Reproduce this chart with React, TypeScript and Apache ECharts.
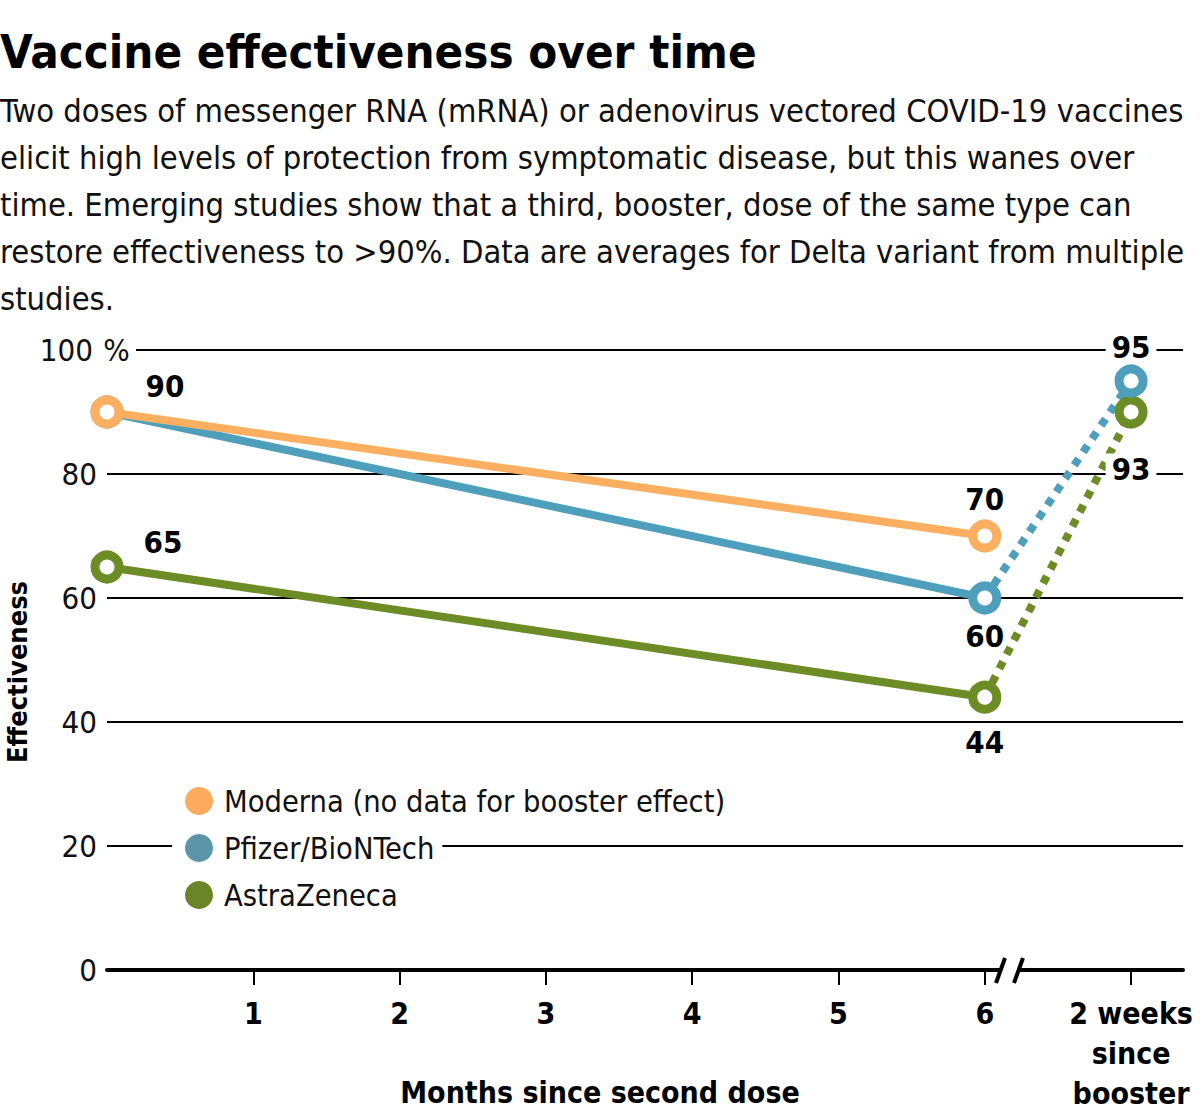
import React, { useEffect, useRef } from "react";
import * as echarts from "echarts";

const TITLE = "Vaccine effectiveness over time";
const SUBTITLE_LINES = [
  "Two doses of messenger RNA (mRNA) or adenovirus vectored COVID-19 vaccines",
  "elicit high levels of protection from symptomatic disease, but this wanes over",
  "time. Emerging studies show that a third, booster, dose of the same type can",
  "restore effectiveness to >90%. Data are averages for Delta variant from multiple",
  "studies.",
];
const SERIES_NAMES = ["Moderna (no data for booster effect)", "Pfizer/BioNTech", "AstraZeneca"];
const MONTHS = [0, 6];
const BOOSTER_X = 7;
const MODERNA = [90, 70];
const PFIZER = [90, 60];
const PFIZER_BOOSTER = 95;
const ASTRA = [65, 44];
const ASTRA_BOOSTER = 90;
const MODERNA_LABELS = ["90", "70"];
const PFIZER_LABELS = ["", "60", "95"];
const ASTRA_LABELS = ["65", "44", "93"];
const X_TICKS = [1, 2, 3, 4, 5, 6, 7];
const X_TICK_LABELS = ["1", "2", "3", "4", "5", "6", "2 weeks\nsince\nbooster"];
const Y_TICK_VALUES = [0, 20, 40, 60, 80, 100];
const Y_TICK_LABELS = ["0", "20", "40", "60", "80", "100"];

const COLORS = ["#FDAF61", "#4E9FBC", "#6C8C26"];
const LEGEND_COLORS = ["#FBAA5E", "#5A95A8", "#6A8428"];
const FONT = "'DejaVu Sans Condensed', 'Liberation Sans Narrow', 'Roboto', sans-serif";

const LABEL_OFFSETS: Record<string, [number, number]> = {
  m0: [58, -26], m1: [0, -37],
  p1: [0, 38], p2: [0, -34],
  a0: [56, -25], a1: [0, 45], a2: [0, 57],
};

function lbl(text: string, offset: [number, number] | undefined, bg: boolean) {
  if (!text || !offset) return { show: false };
  return {
    show: true,
    formatter: text,
    position: "inside",
    offset,
    fontFamily: FONT,
    fontWeight: "bold",
    fontSize: 31,
    color: "#000",
    backgroundColor: bg ? "#fff" : "transparent",
    padding: bg ? [0, 6, 0, 6] : 0,
  };
}

function mainSeries(name: string, color: string, vals: number[], labels: string[], key: string) {
  return {
    type: "line",
    name,
    z: 3,
    symbol: "circle",
    symbolSize: 24,
    lineStyle: { color, width: 8 },
    itemStyle: { color: "#fff", borderColor: color, borderWidth: 9 },
    data: MONTHS.map((m, i) => ({
      value: [m, vals[i]],
      label: lbl(labels[i], LABEL_OFFSETS[key + i], false),
    })),
  };
}

function boosterSeries(name: string, color: string, last: number, booster: number, label: string, key: string) {
  return {
    type: "line",
    name,
    z: 2,
    symbol: "circle",
    symbolSize: 24,
    lineStyle: { color, width: 8, type: [8, 8], cap: "butt" },
    itemStyle: { color: "#fff", borderColor: color, borderWidth: 9 },
    data: [
      { value: [MONTHS[1], last], symbol: "none", label: { show: false } },
      { value: [BOOSTER_X, booster], label: lbl(label, LABEL_OFFSETS[key + 2], true) },
    ],
  };
}

export default function App() {
  const ref = useRef<HTMLDivElement>(null);
  useEffect(() => {
    document.body.style.margin = "0";
    const chart = echarts.init(ref.current!, null, { renderer: "svg" });
    const option: any = {
      animation: false,
      backgroundColor: "#fff",
      textStyle: { fontFamily: FONT },
      title: [
        {
          text: TITLE,
          left: 0,
          top: 28,
          padding: 0,
          textStyle: { fontFamily: FONT, fontSize: 47, fontWeight: "bold", color: "#000" },
        },
        {
          text: SUBTITLE_LINES.join("\n"),
          left: 0,
          top: 87,
          padding: 0,
          textStyle: { fontFamily: FONT, fontSize: 32.4, lineHeight: 47, fontWeight: "normal", color: "#111" },
        },
      ],
      grid: { left: 107, right: 17, top: 350, bottom: 142, containLabel: false, outerBoundsMode: "none" },
      legend: {
        orient: "vertical",
        left: 180,
        top: 780,
        itemWidth: 40,
        itemHeight: 28,
        itemGap: 15,
        z: 10,
        textStyle: {
          fontFamily: FONT,
          fontSize: 30.5,
          lineHeight: 28,
          color: "#111",
          backgroundColor: "#fff",
          padding: [2, 8, 2, 0],
        },
        data: SERIES_NAMES.map((n, i) => ({
          name: n,
          icon: "circle",
          itemStyle: { color: LEGEND_COLORS[i], borderWidth: 0 },
        })),
      },
      xAxis: {
        type: "value",
        min: 0,
        max: 7.355,
        interval: 1,
        name: "Months since second dose",
        nameLocation: "middle",
        nameGap: 122,
        nameMoveOverlap: false,
        nameTextStyle: {
          fontFamily: FONT,
          fontWeight: "bold",
          fontSize: 30,
          color: "#000",
          verticalAlign: "middle",
          padding: [0, 90, 0, 0],
        },
        axisLine: { show: true, lineStyle: { color: "#000", width: 4 } },
        axisTick: { show: true, length: 15, customValues: X_TICKS, lineStyle: { color: "#000", width: 2 } },
        axisLabel: {
          customValues: X_TICKS,
          margin: 23,
          fontFamily: FONT,
          fontWeight: "bold",
          fontSize: 30,
          lineHeight: 40,
          color: "#000",
          formatter: (v: number) => {
            const i = X_TICKS.indexOf(Math.round(v * 1000) / 1000);
            return i >= 0 ? X_TICK_LABELS[i] : "";
          },
        },
        splitLine: { show: false },
      },
      yAxis: {
        type: "value",
        min: 0,
        max: 100,
        interval: 20,
        name: "Effectiveness",
        nameLocation: "middle",
        nameGap: 76,
        nameMoveOverlap: false,
        nameTextStyle: { fontFamily: FONT, fontWeight: "bold", fontSize: 27, color: "#000", padding: [0, 24, 0, 0] },
        axisLine: { show: false },
        axisTick: { show: false },
        splitLine: { show: true, lineStyle: { color: "#000", width: 2 } },
        axisLabel: {
          margin: -29,
          color: "#111",
          fontFamily: FONT,
          fontSize: 31,
          formatter: (v: number) => {
            const i = Y_TICK_VALUES.indexOf(v);
            const t = i >= 0 ? Y_TICK_LABELS[i] : "";
            return v === 100 ? `{n|${t}}{p|%}` : `{n|${t}}{e|}`;
          },
          rich: {
            n: { fontFamily: FONT, fontSize: 31, color: "#111", align: "right" },
            p: { fontFamily: FONT, fontSize: 31, color: "#111", width: 39, align: "left", padding: [0, 0, 0, 4], backgroundColor: "#fff" },
            e: { width: 39 },
          },
        },
      },
      graphic: [
        { type: "rect", z: 1, shape: { x: 172, y: 837, width: 56, height: 18 }, style: { fill: "#fff" } },
        { type: "rect", z: 10, shape: { x: 1000, y: 960, width: 20, height: 20 }, style: { fill: "#fff" } },
        { type: "line", z: 11, shape: { x1: 996, y1: 983, x2: 1005, y2: 958 }, style: { stroke: "#000", lineWidth: 4 } },
        { type: "line", z: 11, shape: { x1: 1014, y1: 983, x2: 1023, y2: 958 }, style: { stroke: "#000", lineWidth: 4 } },
      ],
      series: [
        boosterSeries(SERIES_NAMES[2], COLORS[2], ASTRA[1], ASTRA_BOOSTER, ASTRA_LABELS[2], "a"),
        boosterSeries(SERIES_NAMES[1], COLORS[1], PFIZER[1], PFIZER_BOOSTER, PFIZER_LABELS[2], "p"),
        mainSeries(SERIES_NAMES[2], COLORS[2], ASTRA, ASTRA_LABELS, "a"),
        mainSeries(SERIES_NAMES[1], COLORS[1], PFIZER, PFIZER_LABELS, "p"),
        mainSeries(SERIES_NAMES[0], COLORS[0], MODERNA, MODERNA_LABELS, "m"),
      ],
    };
    chart.setOption(option);
    return () => chart.dispose();
  }, []);
  return <div ref={ref} style={{ width: 1200, height: 1112 }} />;
}
